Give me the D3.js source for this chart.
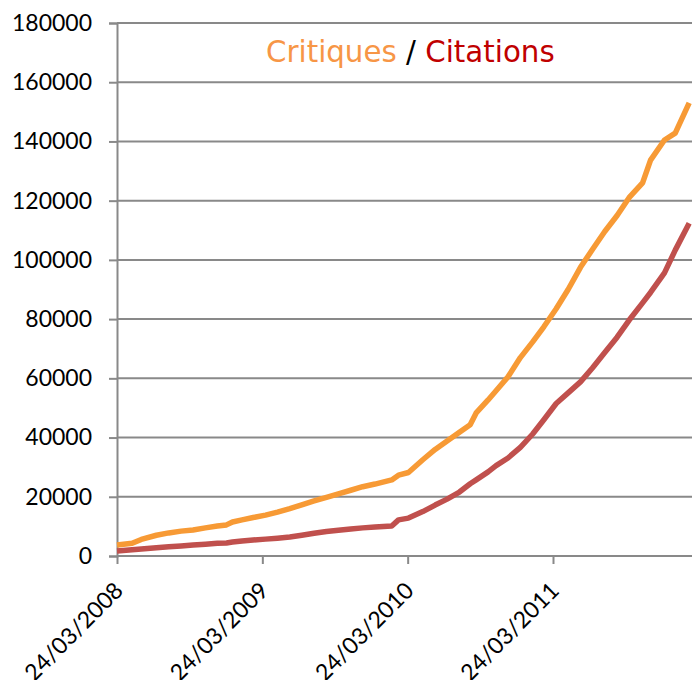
<!DOCTYPE html>
<html>
<head>
<meta charset="utf-8">
<script src="https://cdn.jsdelivr.net/npm/d3@7"></script>
<style>
  html, body { margin: 0; padding: 0; background: #fff; }
  svg { display: block; }
</style>
</head>
<body>
<svg id="chart" width="692" height="680"></svg>
<script>
// ---- data ----
const dates = [
  "2008-03-24","2008-05-01","2008-05-24","2008-07-01","2008-08-01","2008-09-01",
  "2008-10-01","2008-11-01","2008-12-01","2008-12-24","2009-01-08","2009-02-01",
  "2009-03-01","2009-04-01","2009-05-01","2009-06-01","2009-07-01","2009-08-01",
  "2009-09-01","2009-10-01","2009-11-01","2009-12-01","2010-01-01","2010-02-12",
  "2010-03-01","2010-03-26","2010-05-01","2010-06-01","2010-07-01","2010-08-01",
  "2010-08-28","2010-09-12","2010-10-12","2010-11-01","2010-12-01","2011-01-01",
  "2011-02-01","2011-03-01","2011-04-01","2011-05-01","2011-06-01","2011-07-01",
  "2011-08-01","2011-09-01","2011-10-01","2011-11-04","2011-11-24","2011-12-29",
  "2012-01-25","2012-02-29"
];
const critiques = [
  3700, 4300, 5600, 7000, 7800, 8400,
  8800, 9500, 10100, 10500, 11500, 12200,
  13000, 13800, 14800, 16000, 17300, 18600,
  19800, 21000, 22200, 23400, 24300, 25700,
  27300, 28200, 32500, 36000, 38800, 41800,
  44300, 48300, 52700, 55800, 60500, 67000,
  72300, 77400, 83500, 90000, 97500, 103500,
  109600, 115000, 121000, 126000, 133700, 140500,
  142800, 153000
];
const citations = [
  1700, 2100, 2400, 2800, 3100, 3400,
  3700, 4000, 4300, 4400, 4700, 5100,
  5400, 5700, 6000, 6400, 7000, 7700,
  8300, 8700, 9100, 9500, 9800, 10100,
  12200, 12800, 15000, 17200, 19200, 21600,
  24400, 25700, 28400, 30500, 33100, 36700,
  41200, 46000, 51500, 55100, 58800, 63500,
  68700, 73900, 79600, 85500, 89000, 95600,
  103300, 112400
];
const yTicks = [0, 20000, 40000, 60000, 80000, 100000, 120000, 140000, 160000, 180000];
const xTickLabels = ["24/03/2008", "24/03/2009", "24/03/2010", "24/03/2011"];
const seriesNames = ["Critiques", "Citations"];

// ---- layout ----
const svg = d3.select("#chart");
const W = 692;
const x0 = 117, x1 = 553, yTop = 23, yBot = 556;
const parseDay = d3.utcParse("%Y-%m-%d");
const parseTick = d3.utcParse("%d/%m/%Y");
const fmtTick = d3.utcFormat("%d/%m/%Y");

const x = d3.scaleUtc()
  .domain([parseTick(xTickLabels[0]), parseTick(xTickLabels[3])])
  .range([x0, x1]);
const y = d3.scaleLinear().domain([0, 180000]).range([yBot, yTop]);

const gridColor = "#898989";
const labelFont = "Lato, 'Liberation Sans', sans-serif";

// gridlines
svg.append("g")
  .selectAll("line")
  .data(yTicks)
  .join("line")
  .attr("x1", x0).attr("x2", W)
  .attr("y1", d => y(d)).attr("y2", d => y(d))
  .attr("stroke", gridColor).attr("stroke-width", 2);

// y axis
const yAxis = d3.axisLeft(y).tickValues(yTicks).tickSize(8).tickPadding(17).tickFormat(d3.format("d"));
const gy = svg.append("g").attr("transform", `translate(${x0},0)`).call(yAxis);
gy.select(".domain").attr("stroke", gridColor).attr("stroke-width", 2);
gy.selectAll(".tick line").attr("stroke", gridColor).attr("stroke-width", 2);
gy.selectAll(".tick text")
  .attr("fill", "#000")
  .style("font-family", labelFont)
  .style("font-size", "23px");

// x axis
const xAxis = d3.axisBottom(x)
  .tickValues(xTickLabels.map(parseTick))
  .tickSize(8)
  .tickFormat(fmtTick);
const gx = svg.append("g").attr("transform", `translate(0,${yBot})`).call(xAxis);
gx.select(".domain").remove();
gx.append("line").attr("x1", x0).attr("x2", W).attr("y1", 0).attr("y2", 0)
  .attr("stroke", gridColor).attr("stroke-width", 2);
gx.selectAll(".tick line").attr("stroke", gridColor).attr("stroke-width", 2);
gx.selectAll(".tick text")
  .attr("fill", "#000")
  .style("font-family", labelFont)
  .style("font-size", "23px")
  .attr("text-anchor", "end")
  .attr("dy", null)
  .attr("y", 0)
  .attr("transform", "translate(7,36) rotate(-45)");

// lines
const line = d3.line()
  .x((d, i) => x(parseDay(dates[i])))
  .y(d => y(d));

svg.append("path")
  .datum(critiques)
  .attr("d", line)
  .attr("fill", "none")
  .attr("stroke", "#F79A35")
  .attr("stroke-width", 5.5)
  .attr("stroke-linejoin", "round")
  .attr("stroke-linecap", "butt");

svg.append("path")
  .datum(citations)
  .attr("d", line)
  .attr("fill", "none")
  .attr("stroke", "#C0504D")
  .attr("stroke-width", 5.5)
  .attr("stroke-linejoin", "round")
  .attr("stroke-linecap", "butt");

// title
const title = svg.append("text")
  .attr("x", 266).attr("y", 62)
  .style("font-family", "'DejaVu Sans', sans-serif")
  .style("font-size", "29.3px");
title.append("tspan").attr("fill", "#F79646").text(seriesNames[0]);
title.append("tspan").attr("fill", "#000").text(" / ");
title.append("tspan").attr("fill", "#C00000").text(seriesNames[1]);
</script>
</body>
</html>
